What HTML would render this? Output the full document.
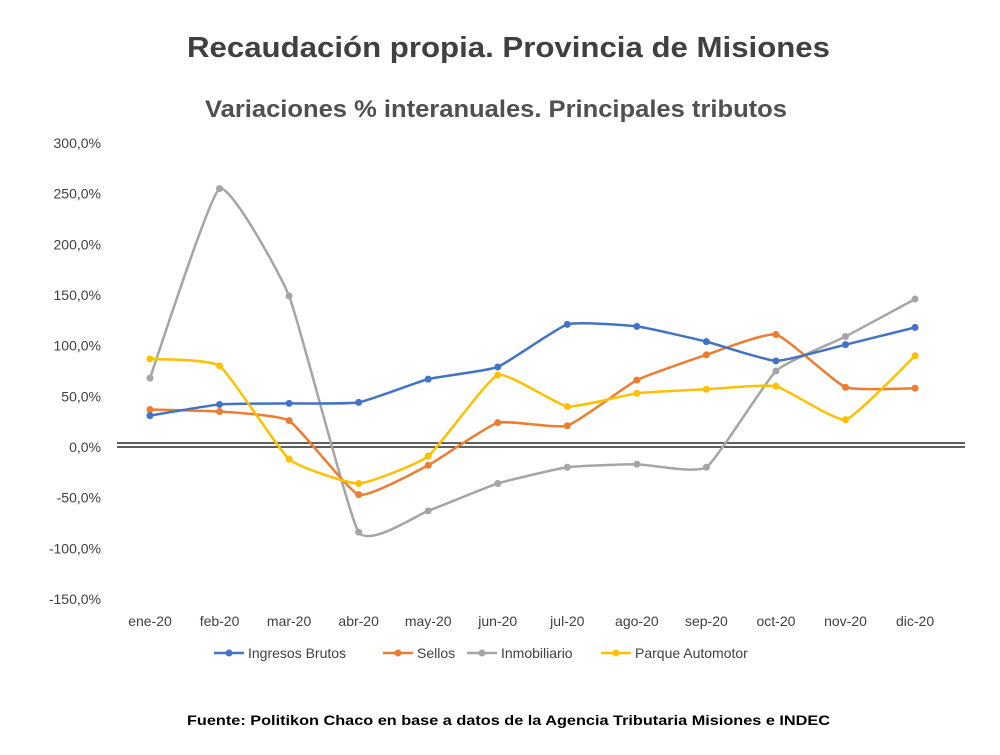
<!DOCTYPE html>
<html><head><meta charset="utf-8"><style>
body{margin:0;background:#fff;width:1000px;height:750px;overflow:hidden;font-family:"Liberation Sans",Arial,sans-serif}
</style></head><body>
<svg id="s" width="1000" height="750" xmlns="http://www.w3.org/2000/svg" font-family="Liberation Sans, Arial, sans-serif">
<text x="187" y="57" font-size="29" font-weight="bold" fill="#404040" textLength="643" lengthAdjust="spacingAndGlyphs">Recaudación propia. Provincia de Misiones</text>
<text x="205" y="117" font-size="24" font-weight="bold" fill="#505050" textLength="582" lengthAdjust="spacingAndGlyphs">Variaciones % interanuales. Principales tributos</text>
<g id="y" font-size="14" fill="#404040" text-anchor="end"></g>
<g id="x" font-size="14" fill="#404040" text-anchor="middle"></g>
<line x1="117" y1="443" x2="965" y2="443" stroke="#000" stroke-width="1.2"/>
<line x1="117" y1="447" x2="965" y2="447" stroke="#000" stroke-width="1.2"/>
<g id="d"></g>
<g font-size="14" fill="#404040">
<line x1="214" y1="653" x2="244" y2="653" stroke="#4472C4" stroke-width="2.5"/><circle cx="229" cy="653" r="3.5" fill="#4472C4"/><text x="248" y="658">Ingresos Brutos</text>
<line x1="383" y1="653" x2="413" y2="653" stroke="#ED7D31" stroke-width="2.5"/><circle cx="398" cy="653" r="3.5" fill="#ED7D31"/><text x="417" y="658">Sellos</text>
<line x1="467" y1="653" x2="497" y2="653" stroke="#A5A5A5" stroke-width="2.5"/><circle cx="482" cy="653" r="3.5" fill="#A5A5A5"/><text x="501" y="658">Inmobiliario</text>
<line x1="601" y1="653" x2="631" y2="653" stroke="#FFC000" stroke-width="2.5"/><circle cx="616" cy="653" r="3.5" fill="#FFC000"/><text x="635" y="658">Parque Automotor</text>
</g>
<text x="187" y="725" font-size="14" font-weight="bold" fill="#000" textLength="643" lengthAdjust="spacingAndGlyphs">Fuente: Politikon Chaco en base a datos de la Agencia Tributaria Misiones  e INDEC</text>
</svg>
<script>
var NS="http://www.w3.org/2000/svg";
function Y(v){return 447-v*1.0133;}
function X(i){return 150+i*69.55;}
var yg=document.getElementById('y');
for(var v=300;v>=-150;v-=50){var t=document.createElementNS(NS,'text');t.setAttribute('x',101);t.setAttribute('y',Y(v)+5);t.textContent=v.toFixed(1).replace('.',',')+'%';yg.appendChild(t);}
var m=['ene-20','feb-20','mar-20','abr-20','may-20','jun-20','jul-20','ago-20','sep-20','oct-20','nov-20','dic-20'];
var xg=document.getElementById('x');
m.forEach(function(s,i){var t=document.createElementNS(NS,'text');t.setAttribute('x',X(i));t.setAttribute('y',626);t.textContent=s;xg.appendChild(t);});
var S=[
['#A5A5A5',[68,255,149,-84,-63,-36,-20,-17,-20,75,109,146]],
['#ED7D31',[37,35,26,-47,-18,24,21,66,91,111,59,58]],
['#4472C4',[31,42,43,44,67,79,121,119,104,85,101,118]],
['#FFC000',[87,80,-12,-36,-9,71,40,53,57,60,27,90]]];
var dg=document.getElementById('d');
S.forEach(function(s){var p=s[1].map(function(v,i){return [X(i),Y(v)];});
var d='M'+p[0][0]+','+p[0][1];
for(var i=0;i<p.length-1;i++){var p0=p[i>0?i-1:i],p1=p[i],p2=p[i+1],p3=p[i+2<p.length?i+2:i+1];var k=14;
d+=' C'+(p1[0]+(p2[0]-p0[0])/k)+','+(p1[1]+(p2[1]-p0[1])/k)+' '+(p2[0]-(p3[0]-p1[0])/k)+','+(p2[1]-(p3[1]-p1[1])/k)+' '+p2[0]+','+p2[1];}
var pa=document.createElementNS(NS,'path');pa.setAttribute('d',d);pa.setAttribute('fill','none');pa.setAttribute('stroke',s[0]);pa.setAttribute('stroke-width','2.5');dg.appendChild(pa);
p.forEach(function(q){var c=document.createElementNS(NS,'circle');c.setAttribute('cx',q[0]);c.setAttribute('cy',q[1]);c.setAttribute('r',3.5);c.setAttribute('fill',s[0]);dg.appendChild(c);});});
</script>
</body></html>
